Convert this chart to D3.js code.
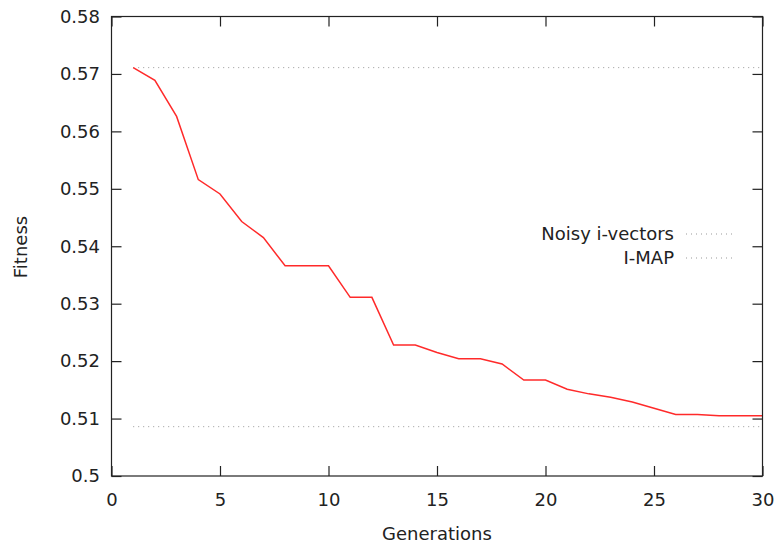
<!DOCTYPE html>
<html><head><meta charset="utf-8">
<script src="https://cdn.jsdelivr.net/npm/d3@7"></script>
<style>body{margin:0;background:#fff}svg{display:block}text{font-family:"DejaVu Sans",sans-serif;fill:#222}</style>
</head><body><svg id="c" width="778" height="544"></svg>
<script>
const generations = d3.range(1, 31);
const fitness = [0.5711,0.5689,0.5626,0.5516,0.5491,0.5443,0.5415,0.5366,0.5366,0.5366,
  0.5311,0.5311,0.5228,0.5228,0.5215,0.5204,0.5204,0.5195,0.5167,0.5167,
  0.5151,0.5143,0.5137,0.5129,0.5118,0.5107,0.5107,0.5105,0.5105,0.5105];
const refNames = ["Noisy i-vectors", "I-MAP"];
const refValues = [0.5711, 0.50859];
const refRange = [1, 30];
const xTicks = [0,5,10,15,20,25,30];
const yTicks = [0.5,0.51,0.52,0.53,0.54,0.55,0.56,0.57,0.58];

const svg = d3.select("#c");
const L=111.5, R=762.5, T=16.5, B=476;
const x = d3.scaleLinear().domain([0,30]).range([L,R]);
const y = d3.scaleLinear().domain([0.5,0.58]).range([B,T]);
const fs = 18;

refValues.forEach(v=>{
  svg.append("line").attr("x1",x(refRange[0])).attr("x2",x(refRange[1]))
    .attr("y1",y(v)).attr("y2",y(v)).attr("stroke","#999").attr("stroke-width",1)
    .attr("stroke-dasharray","1,4");
});

svg.append("path").datum(generations.map((g,i)=>[g,fitness[i]]))
  .attr("d", d3.line().x(d=>x(d[0])).y(d=>y(d[1])))
  .attr("fill","none").attr("stroke","#ff2a2a").attr("stroke-width",1.5);

svg.append("rect").attr("x",L).attr("y",T).attr("width",R-L).attr("height",B-T)
  .attr("fill","none").attr("stroke","#222").attr("stroke-width",1.2);

const tl = 10;
const gB = svg.append("g").attr("transform",`translate(0,${B})`)
  .call(d3.axisBottom(x).tickValues(xTicks).tickSizeInner(-tl).tickSizeOuter(0).tickPadding(30).tickFormat(d3.format("d")));
const gT = svg.append("g").attr("transform",`translate(0,${T})`)
  .call(d3.axisTop(x).tickValues(xTicks).tickSizeInner(-tl).tickSizeOuter(0).tickFormat(""));
const gL = svg.append("g").attr("transform",`translate(${L},0)`)
  .call(d3.axisLeft(y).tickValues(yTicks).tickSizeInner(-tl).tickSizeOuter(0).tickPadding(11.5).tickFormat(d=>d3.format("")(+d.toFixed(2))));
const gR = svg.append("g").attr("transform",`translate(${R},0)`)
  .call(d3.axisRight(y).tickValues(yTicks).tickSizeInner(-tl).tickSizeOuter(0).tickFormat(""));
[gB,gT,gL,gR].forEach(g=>{
  g.select(".domain").remove();
  g.selectAll(".tick line").attr("stroke","#222").attr("stroke-width",1.2);
  g.selectAll("text").attr("font-size",fs).attr("fill","#222").attr("font-family","DejaVu Sans");
});
gB.selectAll("text").attr("dy",0);

svg.append("text").attr("x",437).attr("y",540).attr("text-anchor","middle").attr("font-size",fs).text("Generations");
svg.append("text").attr("transform","translate(27,247) rotate(-90)").attr("text-anchor","middle").attr("font-size",fs).text("Fitness");

refNames.forEach((n,i)=>{
  const ly = 234 + i*24;
  svg.append("text").attr("x",674).attr("y",ly).attr("dy","0.35em").attr("text-anchor","end").attr("font-size",fs).text(n);
  svg.append("line").attr("x1",686).attr("x2",736).attr("y1",ly).attr("y2",ly)
    .attr("stroke","#999").attr("stroke-width",1).attr("stroke-dasharray","1,4");
});
</script></body></html>
